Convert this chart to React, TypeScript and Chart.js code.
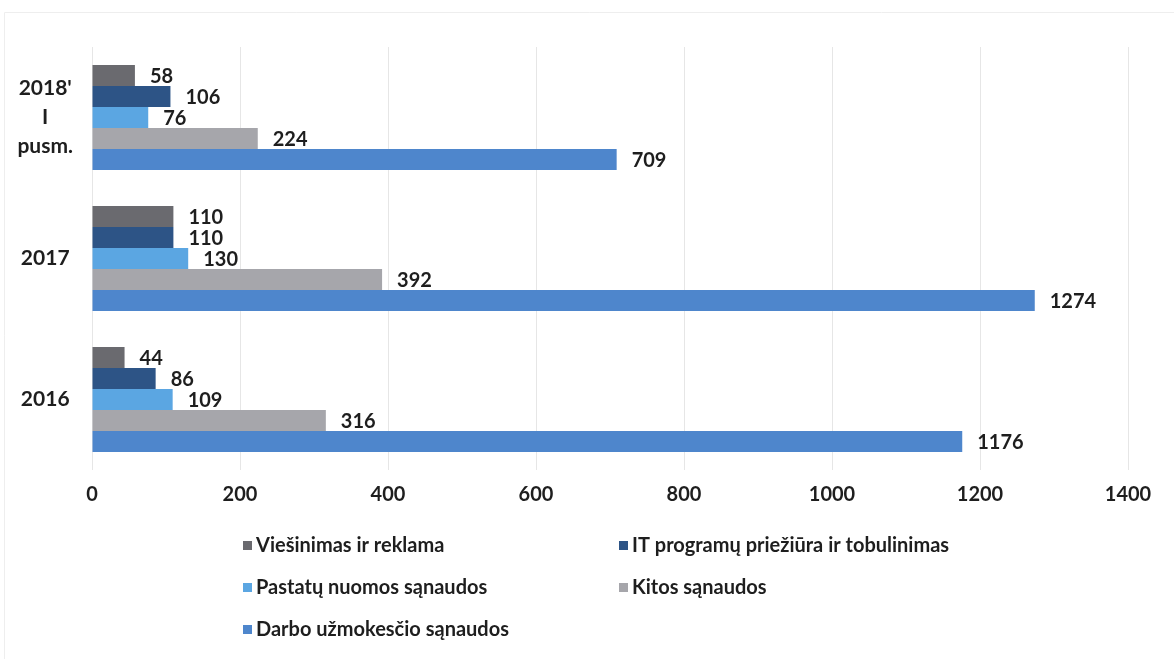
import React, { useEffect, useRef } from "react";
import { Chart, registerables } from "chart.js";

Chart.register(...registerables);

const categories: (string | string[])[] = [["2018'", "I", "pusm."], "2017", "2016"];
const seriesNames = [
  "Viešinimas ir reklama",
  "IT programų priežiūra ir tobulinimas",
  "Pastatų nuomos sąnaudos",
  "Kitos sąnaudos",
  "Darbo užmokesčio sąnaudos",
];
const viesinimas = [58, 110, 44];
const itPrograms = [106, 110, 86];
const pastatai = [76, 130, 109];
const kitos = [224, 392, 316];
const darbo = [709, 1274, 1176];
const seriesColors = ["#6a6a6f", "#2d5486", "#5ba6e2", "#a6a6ab", "#4e86cc"];
const xTicks = [0, 200, 400, 600, 800, 1000, 1200, 1400];

const FONT = "Lato, 'Open Sans', sans-serif";

const valueLabels = {
  id: "valueLabels",
  afterDatasetsDraw(chart: any) {
    const ctx = chart.ctx;
    ctx.save();
    ctx.font = `bold 20px ${FONT}`;
    ctx.fillStyle = "#1e1e1e";
    ctx.textBaseline = "middle";
    ctx.textAlign = "left";
    chart.data.datasets.forEach((ds: any, i: number) => {
      const meta = chart.getDatasetMeta(i);
      meta.data.forEach((el: any, j: number) => {
        ctx.fillText(String(ds.data[j]), el.x + 15, el.y + 1);
      });
    });
    ctx.restore();
  },
};

const bottomLegend = {
  id: "bottomLegend",
  afterDraw(chart: any) {
    const ctx = chart.ctx;
    ctx.save();
    // faint outer frame
    ctx.strokeStyle = "#eeeeee";
    ctx.lineWidth = 1;
    ctx.beginPath();
    ctx.moveTo(4.5, 659);
    ctx.lineTo(4.5, 12.5);
    ctx.lineTo(1174, 12.5);
    ctx.stroke();

    const cols = [243, 619];
    const rows = [545, 587, 629];
    ctx.font = `bold 20px ${FONT}`;
    ctx.textBaseline = "middle";
    ctx.textAlign = "left";
    seriesNames.forEach((name, i) => {
      const x = cols[i % 2];
      const y = rows[Math.floor(i / 2)];
      ctx.fillStyle = seriesColors[i];
      ctx.fillRect(x, y - 4, 9, 9);
      ctx.fillStyle = "#1e1e1e";
      ctx.fillText(name, x + 13, y + 1);
    });
    ctx.restore();
  },
};

export default function App() {
  const ref = useRef<HTMLCanvasElement>(null);
  useEffect(() => {
    document.body.style.margin = "0";
    const seriesData = [viesinimas, itPrograms, pastatai, kitos, darbo];
    const chart = new Chart(ref.current!, {
      type: "bar",
      data: {
        labels: categories as any,
        datasets: seriesNames.map((name, i) => ({
          label: name,
          data: seriesData[i],
          backgroundColor: seriesColors[i],
          borderWidth: 0,
          barPercentage: 1,
          categoryPercentage: 0.745,
        })),
      },
      options: {
        indexAxis: "y",
        animation: false,
        responsive: false,
        maintainAspectRatio: false,
        layout: { padding: { top: 47, right: 46, bottom: 149, left: 0 } },
        plugins: {
          legend: { display: false },
          tooltip: { enabled: false },
        },
        scales: {
          x: {
            min: 0,
            max: 1400,
            afterBuildTicks: (scale: any) => {
              scale.ticks = xTicks.map((v) => ({ value: v }));
            },
            afterFit: (scale: any) => {
              scale.height = 40;
            },
            grid: { color: "#e6e6e6", lineWidth: 1, drawTicks: false },
            border: { display: false },
            ticks: {
              padding: 13,
              color: "#1e1e1e",
              font: { family: FONT, size: 20, weight: "bold" },
              callback: (v: any) => String(v),
            },
          },
          y: {
            afterFit: (scale: any) => {
              scale.width = 92;
            },
            grid: { display: false, drawTicks: false },
            border: { display: false },
            ticks: {
              padding: 19,
              crossAlign: "center",
              color: "#1e1e1e",
              font: { family: FONT, size: 21, weight: "bold", lineHeight: 1.38 },
            },
          },
        },
      },
      plugins: [valueLabels, bottomLegend],
    });
    return () => chart.destroy();
  }, []);
  return <canvas ref={ref} width={1174} height={659} style={{ display: "block" }} />;
}
